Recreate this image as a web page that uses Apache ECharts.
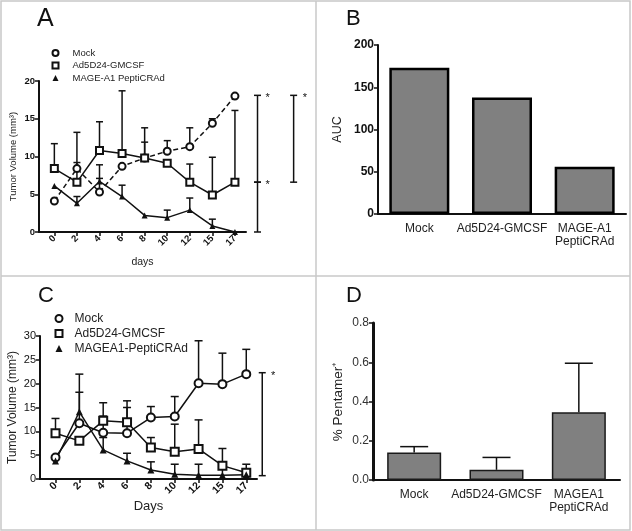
<!DOCTYPE html>
<html>
<head>
<meta charset="utf-8">
<script src="https://cdn.jsdelivr.net/npm/echarts@6/dist/echarts.min.js"></script>
<style>
html,body{margin:0;padding:0;background:#fff;}
#main{width:632px;height:531px;}
</style>
</head>
<body>
<div id="main"></div>
<script>
var days = ['0', '2', '4', '6', '8', '10', '12', '15', '17'];

// panel A - tumor volume
var mockA = [4.1, 8.4, 5.3, 8.7, 9.8, 10.7, 11.3, 14.4, 18.0];
var mockAErr = [null, 9.2, 7.1, null, 11.9, 12.1, 13.8, 15.0, null];
var adA = [8.4, 6.6, 10.8, 10.4, 9.8, 9.1, 6.6, 4.9, 6.6];
var adAErr = [11.7, 13.2, 14.6, 18.7, 13.8, null, 9.0, 9.9, 16.1];
var mageA = [6.1, 3.8, 6.7, 4.7, 2.2, 1.9, 2.9, 0.8, 0.0];
var mageAErr = [null, 4.7, 8.9, 6.2, null, 2.9, 4.5, 1.7, null];
// brackets: [x (day index units), from, to]
var bracketA = [[9.0, 18.1, 6.6], [9.0, 6.6, 0], [10.6, 18.1, 6.6]];
var starsA = [[9.45, 18.1], [9.45, 6.6], [11.1, 18.1]];

// panel B - AUC
var groupsB = ['Mock', 'Ad5D24-GMCSF', 'MAGE-A1\nPeptiCRAd'];
var aucB = [173, 138, 56];

// panel C - tumor volume
var mockC = [4.5, 11.7, 9.7, 9.6, 12.9, 13.1, 20.1, 19.9, 22.0];
var mockCErr = [null, 18.2, 13.2, 15.0, 15.2, 17.3, 29.0, 26.4, 27.2];
var adC = [9.6, 8.0, 12.2, 11.9, 6.6, 5.7, 6.3, 2.8, 1.3];
var adCErr = [12.7, null, 16.0, 16.4, 8.7, 11.5, 12.4, 6.4, 3.1];
var mageC = [3.8, 14.1, 6.1, 3.8, 1.9, 1.0, 0.8, 0.8, 0.9];
var mageCErr = [null, 22.0, 8.7, 5.4, 3.6, 3.1, 3.1, 3.1, null];
var bracketC = [[8.67, 22.3, 0.7]];
var starsC = [[9.13, 22.3]];

// panel D - pentamer
var groupsD = ['Mock', 'Ad5D24-GMCSF', 'MAGEA1\nPeptiCRAd'];
var pentD = [0.14, 0.052, 0.345];
var pentDErr = [0.17, 0.115, 0.595];

var FONT = '"Liberation Sans", Arial, sans-serif';
var INK = '#111';
var dayIdx = days.map(function (d, i) { return i; });

function pts(vals) {
    return vals.map(function (v, i) { return [i, v]; });
}
function errPts(vals, err) {
    var out = [];
    vals.forEach(function (v, i) {
        if (err[i] != null) out.push([i, v, err[i]]);
    });
    return out;
}
function errRender(capW) {
    return function (params, api) {
        var p0 = api.coord([api.value(0), api.value(1)]);
        var p1 = api.coord([api.value(0), api.value(2)]);
        var st = { stroke: INK, lineWidth: 1.5 };
        return {
            type: 'group',
            children: [
                { type: 'line', shape: { x1: p0[0], y1: p0[1], x2: p1[0], y2: p1[1] }, style: st },
                { type: 'line', shape: { x1: p1[0] - capW / 2, y1: p1[1], x2: p1[0] + capW / 2, y2: p1[1] }, style: st }
            ]
        };
    };
}
function bracketRender(params, api) {
    var p0 = api.coord([api.value(0), api.value(1)]);
    var p1 = api.coord([api.value(0), api.value(2)]);
    var st = { stroke: INK, lineWidth: 1.5 };
    return {
        type: 'group',
        children: [
            { type: 'line', shape: { x1: p0[0], y1: p0[1], x2: p1[0], y2: p1[1] }, style: st },
            { type: 'line', shape: { x1: p0[0] - 3.5, y1: p0[1], x2: p0[0] + 3.5, y2: p0[1] }, style: st },
            { type: 'line', shape: { x1: p1[0] - 3.5, y1: p1[1], x2: p1[0] + 3.5, y2: p1[1] }, style: st }
        ]
    };
}
function starRender(params, api) {
    var p = api.coord([api.value(0), api.value(1)]);
    return {
        type: 'text',
        x: p[0], y: p[1] + 3,
        style: { text: '*', fontSize: 11, fontFamily: FONT, fill: INK, align: 'center', verticalAlign: 'middle' }
    };
}

function lineSeries(name, vals, gi, sym, size, dashed) {
    var filled = sym.indexOf('empty') !== 0;
    return {
        name: name, type: 'line', xAxisIndex: gi, yAxisIndex: gi,
        data: pts(vals), symbol: sym, symbolSize: size,
        lineStyle: { color: INK, width: 1.5, type: dashed ? [5, 3] : 'solid' },
        itemStyle: { color: INK, borderColor: INK, borderWidth: filled ? 0 : 1.3 },
        z: 3
    };
}
function errSeries(vals, err, gi, capW) {
    return {
        type: 'custom', xAxisIndex: gi, yAxisIndex: gi,
        data: errPts(vals, err), renderItem: errRender(capW), z: 2, silent: true
    };
}
function customSeries(data, gi, fn) {
    return {
        type: 'custom', xAxisIndex: gi, yAxisIndex: gi, data: data,
        renderItem: fn, clip: false, z: 2, silent: true
    };
}

function dayAxis(gi, min, max, name, nameGap, nameSize, labelSize) {
    return {
        gridIndex: gi, type: 'value', min: min, max: max,
        name: name, nameLocation: 'middle', nameGap: nameGap,
        nameTextStyle: { fontSize: nameSize, color: '#222', fontFamily: FONT },
        axisLine: { onZero: false, lineStyle: { color: INK, width: 2 } },
        axisTick: { customValues: dayIdx, length: 4, lineStyle: { color: INK, width: 1.5 } },
        axisLabel: {
            customValues: dayIdx, rotate: 45, margin: 5,
            fontSize: labelSize, fontWeight: 'bold', color: INK, fontFamily: FONT,
            formatter: function (v) { return days[Math.round(v)]; }
        },
        splitLine: { show: false }
    };
}
function valAxis(gi, max, interval, name, nameGap, opt) {
    return {
        gridIndex: gi, type: 'value', min: 0, max: max, interval: interval,
        name: name, nameLocation: 'middle', nameGap: nameGap,
        nameTextStyle: { fontSize: opt.nameSize, color: '#222', fontFamily: FONT },
        axisLine: { show: true, onZero: false, lineStyle: { color: INK, width: opt.lineW || 2 } },
        axisTick: { show: true, length: 4, lineStyle: { color: INK, width: 1.5 } },
        axisLabel: {
            fontSize: opt.labelSize, fontWeight: opt.bold ? 'bold' : 'normal', color: opt.labelColor || INK,
            fontFamily: FONT, margin: 4, formatter: opt.fmt
        },
        splitLine: { show: false }
    };
}
function catAxis(gi, data) {
    return {
        gridIndex: gi, type: 'category', data: data,
        axisLine: { lineStyle: { color: INK, width: 2 } },
        axisTick: { show: false },
        axisLabel: { fontSize: 12, color: '#222', fontFamily: FONT, margin: 8, lineHeight: 13, interval: 0 }
    };
}

var chart = echarts.init(document.getElementById('main'));
var option = {
    animation: false,
    backgroundColor: '#fff',
    textStyle: { fontFamily: FONT },
    grid: [
        { left: 39, top: 81, width: 207, height: 151 },
        { left: 378, top: 45, width: 248, height: 169 },
        { left: 40, top: 336, width: 217, height: 143 },
        { left: 373, top: 323, width: 247, height: 157 }
    ],
    xAxis: [
        dayAxis(0, -0.68, 8.49, 'days', 25, 10.5, 9.5),
        catAxis(1, groupsB),
        dayAxis(2, -0.65, 8.45, 'Days', 21, 13, 10.5),
        catAxis(3, groupsD)
    ],
    yAxis: [
        valAxis(0, 20, 5, 'Tumor Volume (mm³)', 21, { nameSize: 9.5, labelSize: 9.5, bold: true }),
        valAxis(1, 200, 50, 'AUC', 34, { nameSize: 12.5, labelSize: 12, bold: true }),
        valAxis(2, 30, 5, 'Tumor Volume (mm³)', 21, { nameSize: 12, labelSize: 11, bold: false }),
        valAxis(3, 0.8, 0.2, '% Pentamer⁺', 28, {
            nameSize: 13.5, labelSize: 12, bold: false, lineW: 3, labelColor: '#333',
            fmt: function (v) { return v.toFixed(1); }
        })
    ],
    legend: [
        {
            orient: 'vertical', left: 46.5, top: 43, itemWidth: 6, itemHeight: 6, itemGap: 2.5,
            textStyle: { fontSize: 9.5, color: '#222', fontFamily: FONT, padding: [0, 0, 0, 9] },
            data: [
                { name: 'Mock', icon: 'emptyCircle' },
                { name: 'Ad5D24-GMCSF', icon: 'emptyRect' },
                { name: 'MAGE-A1 PeptiCRAd', icon: 'triangle', itemStyle: { borderWidth: 0 } }
            ]
        },
        {
            orient: 'vertical', left: 49.5, top: 307.5, itemWidth: 7, itemHeight: 7, itemGap: 3,
            textStyle: { fontSize: 12, color: '#222', fontFamily: FONT, padding: [0, 0, 0, 7] },
            data: [
                { name: 'Mock', icon: 'emptyCircle' },
                { name: 'Ad5D24-GMCSF', icon: 'emptyRect' },
                { name: 'MAGEA1-PeptiCRAd', icon: 'triangle', itemStyle: { borderWidth: 0 } }
            ]
        }
    ],
    graphic: [
        { type: 'rect', silent: true, shape: { x: 1, y: 1, width: 629, height: 529 }, style: { fill: null, stroke: '#c8c8c8', lineWidth: 1.5 } },
        { type: 'line', silent: true, shape: { x1: 316, y1: 1, x2: 316, y2: 530 }, style: { stroke: '#c8c8c8', lineWidth: 1.5 } },
        { type: 'line', silent: true, shape: { x1: 1, y1: 276, x2: 630, y2: 276 }, style: { stroke: '#c8c8c8', lineWidth: 1.5 } },
        { type: 'text', left: 37, top: 7, style: { text: 'A', fontSize: 25, fill: INK, fontFamily: FONT } },
        { type: 'text', left: 346, top: 8, style: { text: 'B', fontSize: 22, fill: INK, fontFamily: FONT } },
        { type: 'text', left: 38, top: 285, style: { text: 'C', fontSize: 22, fill: INK, fontFamily: FONT } },
        { type: 'text', left: 346, top: 285, style: { text: 'D', fontSize: 22, fill: INK, fontFamily: FONT } }
    ],
    series: [
        errSeries(mockA, mockAErr, 0, 7),
        errSeries(adA, adAErr, 0, 7),
        errSeries(mageA, mageAErr, 0, 7),
        lineSeries('Mock', mockA, 0, 'emptyCircle', 7, true),
        lineSeries('Ad5D24-GMCSF', adA, 0, 'emptyRect', 7, false),
        lineSeries('MAGE-A1 PeptiCRAd', mageA, 0, 'triangle', 6, false),
        customSeries(bracketA, 0, bracketRender),
        customSeries(starsA, 0, starRender),

        {
            type: 'bar', xAxisIndex: 1, yAxisIndex: 1, data: aucB, barWidth: 60,
            itemStyle: { color: '#808080', borderColor: '#000', borderWidth: 2.5 }
        },

        errSeries(mockC, mockCErr, 2, 8),
        errSeries(adC, adCErr, 2, 8),
        errSeries(mageC, mageCErr, 2, 8),
        lineSeries('Mock', mockC, 2, 'emptyCircle', 8, false),
        lineSeries('Ad5D24-GMCSF', adC, 2, 'emptyRect', 8, false),
        lineSeries('MAGEA1-PeptiCRAd', mageC, 2, 'triangle', 7, false),
        customSeries(bracketC, 2, bracketRender),
        customSeries(starsC, 2, starRender),

        {
            type: 'bar', xAxisIndex: 3, yAxisIndex: 3, data: pentD, barWidth: 54,
            itemStyle: { color: '#808080', borderColor: '#1a1a1a', borderWidth: 1.5 }, z: 2
        },
        {
            type: 'custom', xAxisIndex: 3, yAxisIndex: 3, z: 3, silent: true,
            data: pentD.map(function (v, i) { return [i, v, pentDErr[i]]; }),
            renderItem: errRender(28)
        }
    ]
};
chart.setOption(option);
window.addEventListener('resize', function () {
    chart.resize();
});
</script>
</body>
</html>
